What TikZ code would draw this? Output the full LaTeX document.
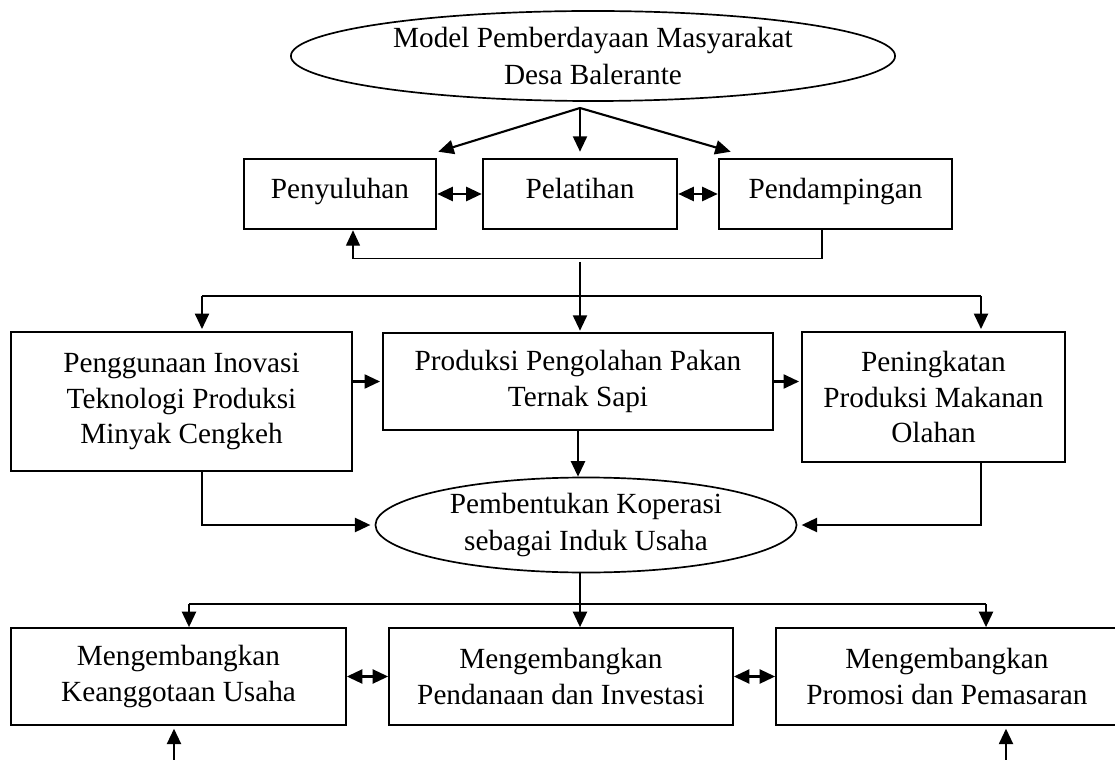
\documentclass[tikz,border=0pt]{standalone}
\usepackage{fontspec}
\setmainfont{Liberation Serif}
\usetikzlibrary{arrows.meta,calc,shapes.geometric}

\begin{document}
\begin{tikzpicture}[x=0.025cm, y=-0.025cm]
    \tikzset{
        box/.style={draw, line width=1.2pt, align=center, inner sep=0pt,
            font=\fontsize{20.8}{25.5}\selectfont},
        topbox/.style={box, line width=1.8pt, minimum height=1.75cm,
            text height=13pt, text depth=6pt},
        oval/.style={ellipse, draw, line width=1.2pt, align=center,
            inner xsep=0pt, inner ysep=-0.35cm, font=\fontsize{20.8}{26.5}\selectfont},
        line/.style={line width=1.5pt},
        tip/.tip={Triangle[length=11pt, width=10pt]},
        arr/.style={line, -tip},
        both/.style={line, tip-tip}
    }
    \useasboundingbox (0,0) rectangle (1115,760);

    \node[oval, minimum width=15.1cm, minimum height=2.25cm] (mdl) at (593,56)
        {Model Pemberdayaan Masyarakat\\Desa Balerante};

    \node[topbox, minimum width=4.8cm] (pyl) at (340,194) {Penyuluhan};
    \node[topbox, minimum width=4.85cm] (plt) at (580,194) {Pelatihan};
    \node[topbox, minimum width=5.825cm] (pdp) at (835.5,194) {Pendampingan};

    \node[box, minimum width=8.525cm, minimum height=3.475cm] (pgi) at (181.5,401.5)
        {Penggunaan Inovasi\\Teknologi Produksi\\Minyak Cengkeh};
    \node[box, minimum width=9.75cm, minimum height=2.425cm] (prd) at (578,381.5)
        {Produksi Pengolahan Pakan\\Ternak Sapi};
    \node[box, minimum width=6.575cm, minimum height=3.25cm] (pnk) at (933.5,397)
        {Peningkatan\\Produksi Makanan\\Olahan};

    \node[oval, minimum width=10.525cm, minimum height=2.375cm] (kop) at (586,525)
        {Pembentukan Koperasi\\sebagai Induk Usaha};

    \node[box, minimum width=8.375cm, minimum height=2.425cm] (mku) at (178.5,676.5)
        {Mengembangkan\\Keanggotaan Usaha};
    \node[box, minimum width=8.6cm, minimum height=2.425cm] (mpi) at (561,676.5)
        {Mengembangkan\\Pendanaan dan Investasi};
    \node[box, minimum width=8.55cm, minimum height=2.425cm] (mpp) at (947,676.5)
        {Mengembangkan\\Promosi dan Pemasaran};

    \coordinate (top) at (580,108);
    \draw[arr] (top) -- ($(pyl.north east)+(1,-6)$);
    \draw[arr] (top) -- ($(plt.north)+(0,-6)$);
    \draw[arr] (top) -- ($(pdp.north west)+(13,-6)$);

    \foreach \a/\b in {pyl/plt, plt/pdp} {
        \draw[both] (\a.east) -- (\b.west);
    }
    \draw[line width=0.9pt, -tip]
        ($(pdp.south)+(-13.5,0)$) -- ++(0,28) -| ($(pyl.south)+(13,0)$);

    \coordinate (s1) at (580,262);
    \coordinate (d1l) at (202,296);
    \coordinate (d1r) at (981,296);
    \draw[arr, shorten >=1pt] (s1) -- (s1 |- prd.north);
    \draw[line] (d1l) -- (d1r);
    \foreach \c/\n in {d1l/pgi, d1r/pnk} {
        \draw[arr, shorten >=1.5pt] (\c) -- (\c |- \n.north);
    }

    \draw[arr, shorten >=1.5pt] (prd.west -| pgi.east) -- (prd.west);
    \draw[arr, shorten >=1.5pt] (prd.east) -- (prd.east -| pnk.west);
    \draw[arr] (prd.south) -- (prd.south |- kop.north);
    \draw[arr, shorten >=3pt] (d1l |- pgi.south) |- (kop.west);
    \draw[arr, shorten >=3pt] (d1r |- pnk.south) |- (kop.east);

    \coordinate (d2l) at (189,604);
    \coordinate (d2r) at (986,604);
    \draw[arr] (kop.south -| s1) -- (s1 |- mpi.north);
    \draw[line] (d2l) -- (d2r);
    \foreach \c/\n in {d2l/mku, d2r/mpp} {
        \draw[arr] (\c) -- (\c |- \n.north);
    }
    \foreach \a/\b in {mku/mpi, mpi/mpp} {
        \draw[both] (\a.east) -- (\b.west);
    }

    \coordinate (in1) at (174,762);
    \coordinate (in2) at (1006,762);
    \foreach \c/\n in {in1/mku, in2/mpp} {
        \draw[arr, shorten >=2pt] (\c) -- (\c |- \n.south);
    }
\end{tikzpicture}
\end{document}
